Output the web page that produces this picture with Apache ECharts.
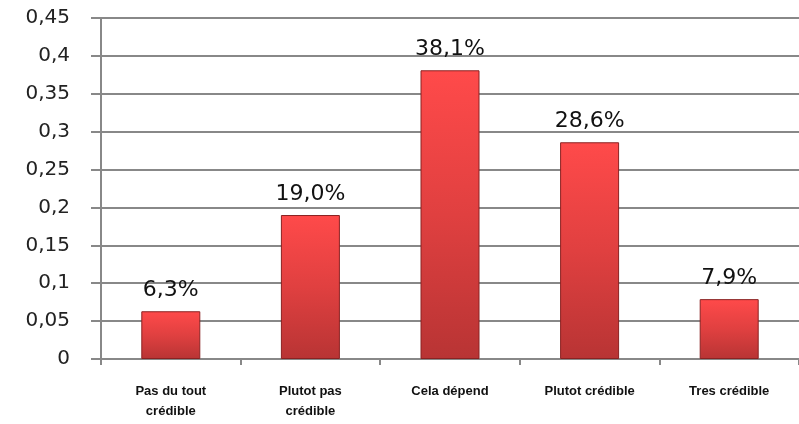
<!DOCTYPE html>
<html>
<head>
<meta charset="utf-8">
<script src="https://cdn.jsdelivr.net/npm/echarts@6/dist/echarts.min.js"></script>
<style>
  html, body { margin: 0; padding: 0; background: #fff; }
  #chart { width: 799px; height: 424px; }
</style>
</head>
<body>
<div id="chart"></div>
<script>
const categories = ['Pas du tout\ncrédible', 'Plutot pas\ncrédible', 'Cela dépend', 'Plutot crédible', 'Tres crédible'];
const values = [0.063, 0.19, 0.381, 0.286, 0.079];
const yMax = 0.45;
const yStep = 0.05;

const chart = echarts.init(document.getElementById('chart'));

const fmtComma = v => String(+v.toFixed(2)).replace('.', ',');

chart.setOption({
  backgroundColor: '#fff',
  animation: false,
  grid: { left: 101, right: -14, top: 18, bottom: 65 },
  xAxis: {
    type: 'category',
    data: categories,
    axisLine: { lineStyle: { color: '#888', width: 2 } },
    axisTick: { show: true, length: 6, lineStyle: { color: '#888', width: 2 } },
    axisLabel: {
      color: '#111',
      fontFamily: 'Liberation Sans',
      fontWeight: 'bold',
      fontSize: 13,
      lineHeight: 20,
      margin: 22
    }
  },
  yAxis: {
    type: 'value',
    min: 0,
    max: yMax,
    interval: yStep,
    axisLine: { show: true, lineStyle: { color: '#888', width: 2 } },
    axisTick: { show: true, inside: false, length: 10, lineStyle: { color: '#888', width: 2 } },
    splitLine: { lineStyle: { color: '#888', width: 2 } },
    axisLabel: {
      color: '#222',
      fontFamily: 'DejaVu Sans',
      fontSize: 20,
      margin: 31,
      formatter: fmtComma
    }
  },
  series: [{
    type: 'bar',
    data: values,
    barWidth: 59,
    itemStyle: {
      color: {
        type: 'linear', x: 0, y: 0, x2: 0, y2: 1,
        colorStops: [
          { offset: 0, color: '#ff4a4a' },
          { offset: 0.5, color: '#e04040' },
          { offset: 1, color: '#b83434' }
        ]
      },
      borderColor: '#8a2222',
      borderWidth: 1
    },
    label: {
      show: true,
      position: 'top',
      distance: 10,
      color: '#111',
      fontFamily: 'DejaVu Sans',
      fontSize: 22,
      formatter: p => (p.value * 100).toFixed(1).replace('.', ',') + '%'
    }
  }]
});
</script>
</body>
</html>
